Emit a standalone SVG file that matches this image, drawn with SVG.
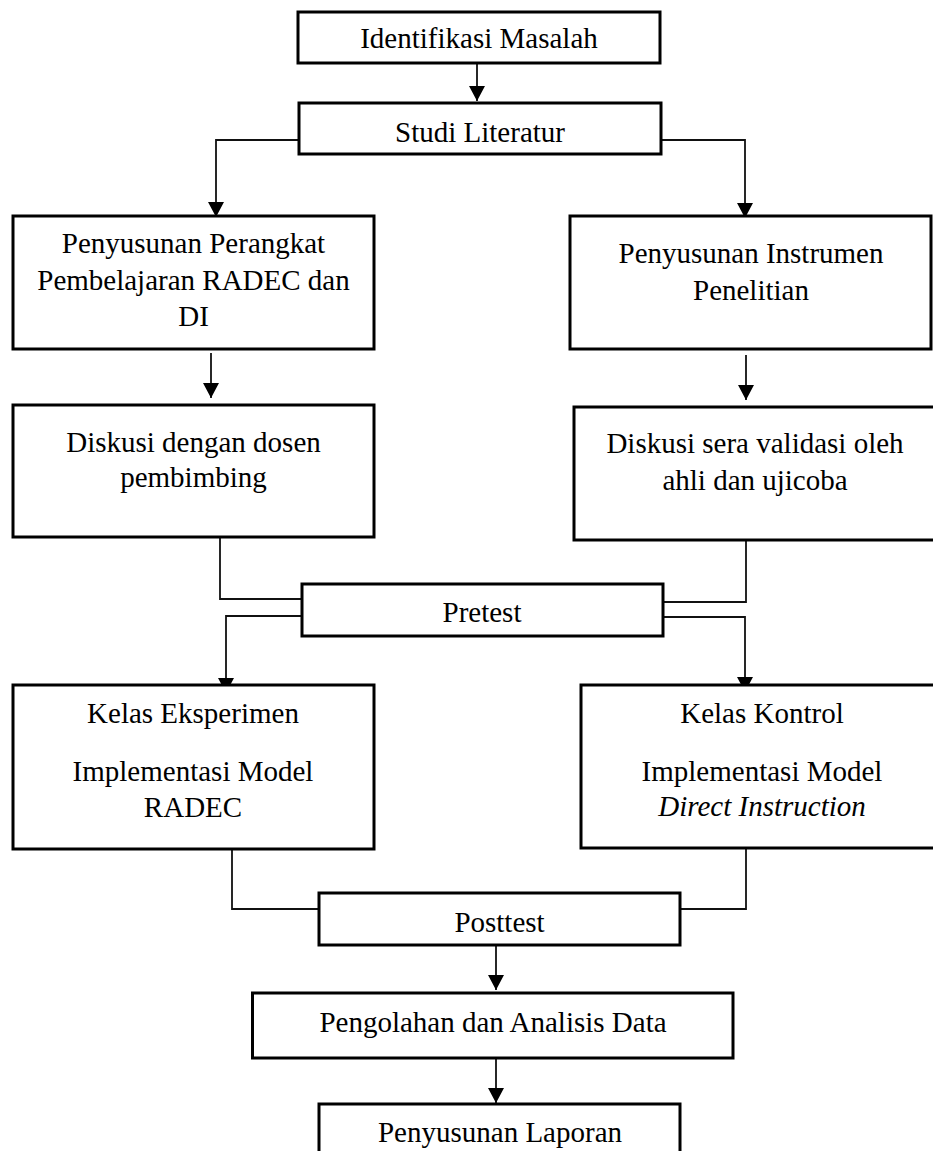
<svg xmlns="http://www.w3.org/2000/svg" width="933" height="1151" viewBox="0 0 933 1151">
<style>
.box{fill:#fff;stroke:#000;stroke-width:3}
.t{font-family:"Liberation Serif","Times New Roman",serif;font-size:29px;fill:#000;text-anchor:middle}
.i{font-style:italic}
.c{fill:none;stroke:#111;stroke-width:1.8}
</style>
<defs>
<marker id="ah" markerWidth="16" markerHeight="16" refX="15" refY="8" orient="auto" markerUnits="userSpaceOnUse">
<path d="M0,0 L15,8 L0,16 z" fill="#000"/>
</marker>
</defs>
<rect width="933" height="1151" fill="#fff"/>
<g id="connectors">
<line class="c" x1="477" y1="63" x2="477" y2="101" marker-end="url(#ah)"/>
<polyline class="c" points="299,140 216,140 216,217" marker-end="url(#ah)"/>
<polyline class="c" points="661,140 745,140 745,218" marker-end="url(#ah)"/>
<line class="c" x1="211" y1="353" x2="211" y2="398" marker-end="url(#ah)"/>
<line class="c" x1="746" y1="355" x2="746" y2="400" marker-end="url(#ah)"/>
<polyline class="c" points="220,537 220,599 303,599"/>
<polyline class="c" points="746,540 746,602 663,602"/>
<polyline class="c" points="302,616 226,616 226,693" marker-end="url(#ah)"/>
<polyline class="c" points="663,617 745,617 745,692" marker-end="url(#ah)"/>
<polyline class="c" points="232,849 232,909 319,909"/>
<polyline class="c" points="746,848 746,909 680,909"/>
<line class="c" x1="496" y1="945" x2="496" y2="990" marker-end="url(#ah)"/>
<line class="c" x1="496" y1="1058" x2="496" y2="1103" marker-end="url(#ah)"/>
</g>
<g id="identifikasi">
<rect class="box" x="298" y="12" width="362" height="51"/>
<text class="t" x="479" y="48">Identifikasi Masalah</text>
</g>
<g id="studi">
<rect class="box" x="299" y="103" width="362" height="51"/>
<text class="t" x="480" y="142">Studi Literatur</text>
</g>
<g id="perangkat">
<rect class="box" x="13" y="216" width="361" height="133"/>
<text class="t" x="193.5" y="253">Penyusunan Perangkat</text>
<text class="t" x="193.5" y="290">Pembelajaran RADEC dan</text>
<text class="t" x="193.5" y="326">DI</text>
</g>
<g id="instrumen">
<rect class="box" x="570" y="216" width="361" height="133"/>
<text class="t" x="751" y="263">Penyusunan Instrumen</text>
<text class="t" x="751" y="300">Penelitian</text>
</g>
<g id="diskusi-dosen">
<rect class="box" x="13" y="405" width="361" height="132"/>
<text class="t" x="193.5" y="452">Diskusi dengan dosen</text>
<text class="t" x="193.5" y="487">pembimbing</text>
</g>
<g id="diskusi-validasi">
<rect class="box" x="574" y="407" width="361" height="133"/>
<text class="t" x="755" y="453">Diskusi sera validasi oleh</text>
<text class="t" x="755" y="490">ahli dan ujicoba</text>
</g>
<g id="pretest">
<rect class="box" x="302" y="584" width="361" height="52"/>
<text class="t" x="482" y="622">Pretest</text>
</g>
<g id="eksperimen">
<rect class="box" x="13" y="685" width="361" height="164"/>
<text class="t" x="193" y="723">Kelas Eksperimen</text>
<text class="t" x="193" y="781">Implementasi Model</text>
<text class="t" x="193" y="817">RADEC</text>
</g>
<g id="kontrol">
<rect class="box" x="581" y="685" width="362" height="163"/>
<text class="t" x="762" y="723">Kelas Kontrol</text>
<text class="t" x="762" y="781">Implementasi Model</text>
<text class="t i" x="762" y="816">Direct Instruction</text>
</g>
<g id="posttest">
<rect class="box" x="319" y="893" width="361" height="52"/>
<text class="t" x="499.5" y="932">Posttest</text>
</g>
<g id="pengolahan">
<rect class="box" x="252.5" y="993" width="480.5" height="65"/>
<text class="t" x="493" y="1032">Pengolahan dan Analisis Data</text>
</g>
<g id="laporan">
<rect class="box" x="319" y="1104" width="361" height="70"/>
<text class="t" x="500" y="1142">Penyusunan Laporan</text>
</g>
</svg>
